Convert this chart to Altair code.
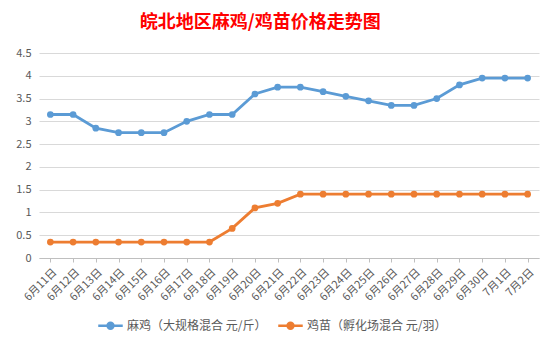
import altair as alt
import pandas as pd

dates = ["6月11日", "6月12日", "6月13日", "6月14日", "6月15日", "6月16日", "6月17日",
         "6月18日", "6月19日", "6月20日", "6月21日", "6月22日", "6月23日", "6月24日",
         "6月25日", "6月26日", "6月27日", "6月28日", "6月29日", "6月30日", "7月1日", "7月2日"]
ma_ji = [3.15, 3.15, 2.85, 2.75, 2.75, 2.75, 3.0, 3.15, 3.15, 3.6, 3.75, 3.75,
         3.65, 3.55, 3.45, 3.35, 3.35, 3.5, 3.8, 3.95, 3.95, 3.95]
ji_miao = [0.35, 0.35, 0.35, 0.35, 0.35, 0.35, 0.35, 0.35, 0.65, 1.1, 1.2, 1.4,
           1.4, 1.4, 1.4, 1.4, 1.4, 1.4, 1.4, 1.4, 1.4, 1.4]
series_names = ["麻鸡（大规格混合 元/斤）", "鸡苗（孵化场混合 元/羽）"]
colors = ["#5B9BD5", "#ED7D31"]
y_ticks = [0, 0.5, 1, 1.5, 2, 2.5, 3, 3.5, 4, 4.5]

rows = []
for name, vals in zip(series_names, [ma_ji, ji_miao]):
    for d, v in zip(dates, vals):
        rows.append({"date": d, "price": v, "series": name})
df = pd.DataFrame(rows)

font = "Noto Sans CJK SC"
x = alt.X("date:N", sort=dates, title=None,
          scale=alt.Scale(paddingInner=0, paddingOuter=0),
          axis=alt.Axis(labelAngle=-45, labelFontSize=11, labelColor="#595959",
                        labelFont=font, domainColor="#BFBFBF", tickColor="#BFBFBF",
                        tickSize=4, labelPadding=4, grid=False))
y = alt.Y("price:Q", title=None,
          scale=alt.Scale(domain=[0, 4.5], nice=False),
          axis=alt.Axis(values=y_ticks, labelExpr="datum.value", labelFontSize=11,
                        labelColor="#595959", labelFont=font, domain=False, ticks=False,
                        gridColor="#D9D9D9", labelPadding=8))

legend = alt.Legend(orient="none", legendX=58, legendY=259, direction="horizontal",
                    title=None, labelFont=font, labelFontSize=12, labelColor="#595959",
                    symbolType="M-1,0L1,0M-0.24,0A0.24,0.24 0 1,0 0.24,0A0.24,0.24 0 1,0 -0.24,0",
                    symbolSize=600, symbolStrokeWidth=2.5, columnPadding=6, labelOffset=3)

cscale = alt.Scale(domain=series_names, range=colors)

lines = alt.Chart(df).mark_line(strokeWidth=2.8).encode(
    x=x, y=y,
    color=alt.Color("series:N", scale=cscale, legend=legend, sort=series_names))
points = alt.Chart(df).mark_circle(size=45, opacity=1).encode(
    x=x, y=y,
    fill=alt.Fill("series:N", scale=cscale, legend=legend, sort=series_names),
    color=alt.Color("series:N", scale=cscale, legend=legend, sort=series_names))

chart = alt.layer(lines, points).properties(
    width=500, height=205,
    padding={"left": 39, "top": 53, "right": 19, "bottom": 98},
    autosize=alt.AutoSizeParams(type="none"),
    background="white",
    title=alt.TitleParams("皖北地区麻鸡/鸡苗价格走势图", anchor="start", dx=124,
                          offset=15, fontSize=18, font=font, fontWeight="bold",
                          color="#FF0000"),
).configure_view(stroke=None)

chart.save("out.html", embed_options={"renderer": "svg", "actions": False})
